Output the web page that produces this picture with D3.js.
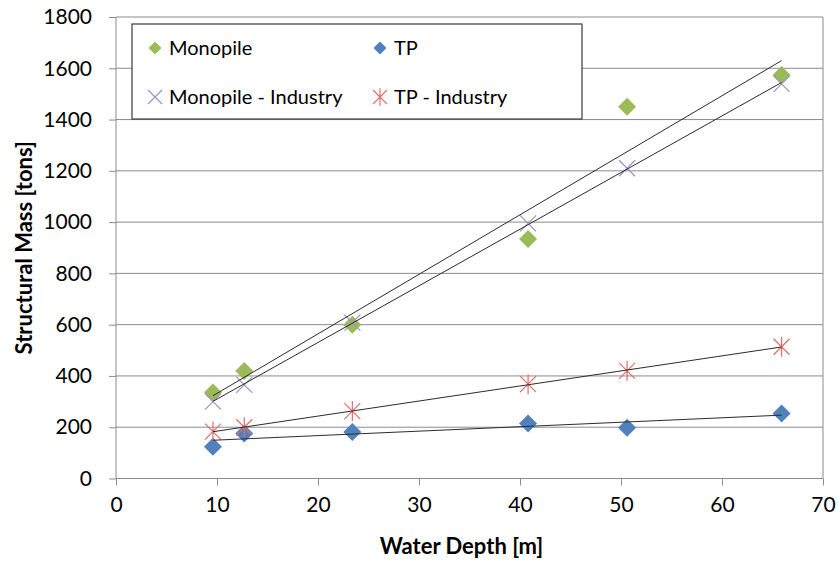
<!DOCTYPE html>
<html>
<head>
<meta charset="utf-8">
<script src="https://cdn.jsdelivr.net/npm/d3@7"></script>
<style>
  body { margin: 0; background: #fff; }
  text { font-family: Lato, "Open Sans", sans-serif; fill: #000; }
</style>
</head>
<body>
<svg id="chart" width="838" height="561"></svg>
<script>
// water depth of the six sites [m]
var depths = [9.6, 12.7, 23.4, 40.8, 50.6, 65.9];
// structural mass per series [tons]
var monopile = [335, 419, 600, 934, 1450, 1574];
var tp = [124, 176, 181, 215, 198, 254];
var monopileIndustry = [300, 365, 608, 995, 1210, 1539];
var tpIndustry = [183, 200, 263, 368, 420, 514];

var xTicks = [0, 10, 20, 30, 40, 50, 60, 70];
var yTicks = [0, 200, 400, 600, 800, 1000, 1200, 1400, 1600, 1800];

var series = [
    {name: "Monopile", values: monopile, color: "#9bbb59", shape: "diamond"},
    {name: "TP", values: tp, color: "#4f81bd", shape: "diamond"},
    {name: "Monopile - Industry", values: monopileIndustry, color: "#9f8fc8", shape: "cross"},
    {name: "TP - Industry", values: tpIndustry, color: "#e06e6b", shape: "star"}
];

var margin = {top: 17, right: 15, bottom: 82.5, left: 116};
var width = 838 - margin.left - margin.right;
var height = 561 - margin.top - margin.bottom;

var svg = d3.select("#chart")
    .append("g")
    .attr("transform", `translate(${margin.left},${margin.top})`);

var x = d3.scaleLinear().domain([0, 70]).range([0, width]);
var y = d3.scaleLinear().domain([0, 1800]).range([height, 0]);

// gridlines
svg.append("g")
    .selectAll("line")
    .data(yTicks.slice(1))
    .enter()
    .append("line")
    .attr("x1", 0).attr("x2", width)
    .attr("y1", d => y(d)).attr("y2", d => y(d))
    .attr("stroke", "#8c8c8c").attr("stroke-width", 1);

// right border
svg.append("line")
    .attr("x1", width).attr("x2", width)
    .attr("y1", 0).attr("y2", height)
    .attr("stroke", "#8c8c8c");

// axes
var xAxis = svg.append("g")
    .attr("transform", `translate(0,${height})`)
    .call(d3.axisBottom(x).tickValues(xTicks).tickSize(7).tickPadding(12));
var yAxis = svg.append("g")
    .call(d3.axisLeft(y).tickValues(yTicks).tickFormat(d3.format("d")).tickSize(7).tickPadding(17));

[xAxis, yAxis].forEach(a => {
    a.selectAll("path, line").attr("stroke", "#8c8c8c");
    a.select(".domain").attr("d", a === xAxis ? `M0,0H${width}` : `M0,0V${height}`);
    a.selectAll("text").style("font-size", "21px").attr("fill", "#000");
});

// markers
function drawMarker(g, shape, color, r) {
    if (shape === "diamond") {
        g.append("path")
            .attr("d", `M0,${-r}L${r},0L0,${r}L${-r},0Z`)
            .attr("fill", color);
    } else if (shape === "cross") {
        g.append("path")
            .attr("d", `M${-r},${-r}L${r},${r}M${-r},${r}L${r},${-r}`)
            .attr("stroke", color).attr("stroke-width", 1.2).attr("fill", "none");
    } else {
        g.append("path")
            .attr("d", `M${-r},${-r}L${r},${r}M${-r},${r}L${r},${-r}M0,${-r * 1.25}L0,${r * 1.25}`)
            .attr("stroke", color).attr("stroke-width", 1.2).attr("fill", "none");
    }
}

series.forEach(s => {
    s.values.forEach((v, i) => {
        var g = svg.append("g").attr("transform", `translate(${x(depths[i])},${y(v)})`);
        drawMarker(g, s.shape, s.color, s.shape === "diamond" ? 9 : 8);
    });
});

// linear trend lines
series.forEach(s => {
    var mx = d3.mean(depths), my = d3.mean(s.values);
    var sxy = d3.sum(depths, (d, i) => (d - mx) * (s.values[i] - my));
    var sxx = d3.sum(depths, d => (d - mx) * (d - mx));
    var slope = sxy / sxx, icpt = my - slope * mx;
    var x0 = d3.min(depths), x1 = d3.max(depths);
    svg.append("line")
        .attr("x1", x(x0)).attr("y1", y(icpt + slope * x0))
        .attr("x2", x(x1)).attr("y2", y(icpt + slope * x1))
        .attr("stroke", "#2b2b2b").attr("stroke-width", 1);
});

// legend
var legend = svg.append("g").attr("transform", "translate(16,7)");
legend.append("rect")
    .attr("width", 450).attr("height", 95)
    .attr("fill", "#fff").attr("stroke", "#3a3a3a").attr("stroke-width", 1.2);
var legendPos = [[23, 24], [248, 24], [23, 73], [248, 73]];
series.forEach((s, i) => {
    var g = legend.append("g").attr("transform", `translate(${legendPos[i][0]},${legendPos[i][1]})`);
    drawMarker(g, s.shape, s.color, s.shape === "diamond" ? 6.5 : 7);
    g.append("text")
        .attr("x", 14).attr("dy", "0.35em")
        .style("font-size", "20px")
        .text(s.name);
});

// axis titles
svg.append("text")
    .attr("x", x(35) - 8).attr("y", height + 75)
    .attr("text-anchor", "middle")
    .style("font-size", "22px").style("font-weight", "bold")
    .text("Water Depth [m]");
svg.append("text")
    .attr("transform", `translate(-84,${height / 2})rotate(-90)`)
    .attr("text-anchor", "middle")
    .style("font-size", "22px").style("font-weight", "bold")
    .text("Structural Mass [tons]");
</script>
</body>
</html>
